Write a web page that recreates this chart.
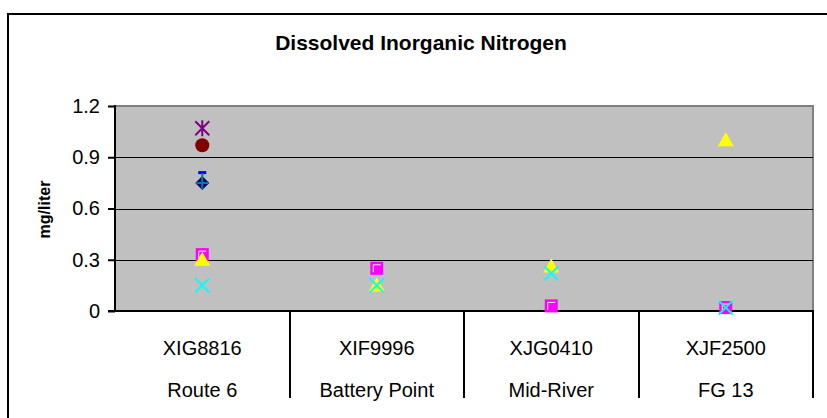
<!DOCTYPE html>
<html>
<head>
<meta charset="utf-8">
<script src="https://cdn.jsdelivr.net/npm/d3@7"></script>
<style>
  body { margin: 0; background: #fff; }
  svg { display: block; font-family: "Liberation Sans", Arial, sans-serif; }
</style>
</head>
<body>
<div id="chart"></div>
<script>
const stations = ["XIG8816", "XIF9996", "XJG0410", "XJF2500"];
const places = ["Route 6", "Battery Point", "Mid-River", "FG 13"];
const yTicks = [0, 0.3, 0.6, 0.9, 1.2];

// one array per series, one value per station (null = no value)
const diamondVals = [0.75, null, null, null];
const squareVals = [0.33, 0.25, 0.03, 0.02];
const triangleVals = [0.30, 0.15, 0.26, 1.0];
const crossVals = [0.15, 0.15, 0.22, 0.02];
const starVals = [1.07, null, null, null];
const circleVals = [0.97, null, null, null];
const plusVals = [0.75, null, null, null];
const dashVals = [0.81, null, null, null];

const width = 827;
const height = 418;
const plot = { left: 115, right: 813, top: 106, bottom: 311 };

const svg = d3
  .select("#chart")
  .append("svg")
  .attr("width", width)
  .attr("height", height);

// outer chart frame
svg
  .append("rect")
  .attr("x", 8)
  .attr("y", 14)
  .attr("width", 900)
  .attr("height", 500)
  .attr("fill", "#fff")
  .attr("stroke", "#000")
  .attr("stroke-width", 2);

svg
  .append("text")
  .attr("x", 421)
  .attr("y", 50)
  .attr("text-anchor", "middle")
  .style("font-size", "21px")
  .style("font-weight", "bold")
  .text("Dissolved Inorganic Nitrogen");

const x = d3
  .scaleBand()
  .domain(stations)
  .range([plot.left, plot.right]);

const y = d3
  .scaleLinear()
  .domain([0, 1.2])
  .range([plot.bottom, plot.top]);

// plot background
svg
  .append("rect")
  .attr("x", plot.left)
  .attr("y", plot.top)
  .attr("width", plot.right - plot.left)
  .attr("height", plot.bottom - plot.top)
  .attr("fill", "#c0c0c0");

// top / right border of the plot area
svg
  .append("path")
  .attr("d", `M${plot.left},${plot.top}H${plot.right}V${plot.bottom}`)
  .attr("fill", "none")
  .attr("stroke", "#808080")
  .attr("stroke-width", 2);

// gridlines
svg
  .append("g")
  .selectAll("line")
  .data(yTicks.filter((d) => d > 0 && d < 1.2))
  .enter()
  .append("line")
  .attr("x1", plot.left)
  .attr("x2", plot.right)
  .attr("y1", (d) => Math.round(y(d)) + 0.5)
  .attr("y2", (d) => Math.round(y(d)) + 0.5)
  .attr("stroke", "#000");

// y axis
const yAxis = d3
  .axisLeft(y)
  .tickValues(yTicks)
  .tickFormat((d) => (d === 0 ? "0" : d3.format(".1f")(d)))
  .tickSize(7)
  .tickPadding(8);

const yg = svg
  .append("g")
  .attr("transform", `translate(${plot.left},0)`)
  .call(yAxis);
yg.select(".domain").remove();
yg.selectAll(".tick line").attr("stroke", "#000").attr("stroke-width", 2);
yg.selectAll(".tick text")
  .style("font-size", "20px")
  .style("font-family", "Liberation Sans, Arial, sans-serif")
  .attr("fill", "#000");

svg
  .append("line")
  .attr("x1", plot.left)
  .attr("x2", plot.left)
  .attr("y1", plot.top - 1)
  .attr("y2", plot.bottom + 1)
  .attr("stroke", "#000")
  .attr("stroke-width", 2);

svg
  .append("text")
  .attr("transform", `translate(50,${(plot.top + plot.bottom) / 2 + 1}) rotate(-90)`)
  .attr("text-anchor", "middle")
  .style("font-size", "16px")
  .style("font-weight", "bold")
  .text("mg/liter");

// x axis with two label rows and dividers
svg
  .append("line")
  .attr("x1", plot.left - 7)
  .attr("x2", plot.right + 1)
  .attr("y1", plot.bottom)
  .attr("y2", plot.bottom)
  .attr("stroke", "#000")
  .attr("stroke-width", 2);

const dividers = stations.map((s) => x(s) + x.bandwidth());
svg
  .append("g")
  .selectAll("line")
  .data(dividers)
  .enter()
  .append("line")
  .attr("x1", (d) => Math.round(d))
  .attr("x2", (d) => Math.round(d))
  .attr("y1", plot.bottom)
  .attr("y2", 398)
  .attr("stroke", "#000")
  .attr("stroke-width", 2);

const cx = (s) => x(s) + x.bandwidth() / 2;

svg
  .append("g")
  .selectAll("text")
  .data(stations)
  .enter()
  .append("text")
  .attr("x", cx)
  .attr("y", 355)
  .attr("text-anchor", "middle")
  .style("font-size", "20px")
  .text((d) => d);

svg
  .append("g")
  .selectAll("text")
  .data(places)
  .enter()
  .append("text")
  .attr("x", (d, i) => cx(stations[i]))
  .attr("y", 397)
  .attr("text-anchor", "middle")
  .style("font-size", "20px")
  .text((d) => d);

// markers
const pts = (vals) =>
  vals
    .map((v, i) => ({ s: stations[i], v: v }))
    .filter((d) => d.v !== null);

const layer = svg.append("g");

function drawSeries(vals, draw) {
  pts(vals).forEach((d) => {
    const g = layer
      .append("g")
      .attr("transform", `translate(${cx(d.s)},${y(d.v)})`);
    draw(g);
  });
}

// diamond
drawSeries(diamondVals, (g) =>
  g.append("path").attr("d", "M0,-7L7,0L0,7L-7,0Z").attr("fill", "#000080")
);
// blue dash
drawSeries(dashVals, (g) =>
  g.append("rect").attr("x", -4).attr("y", -1.5).attr("width", 8).attr("height", 3).attr("fill", "#0000ff")
);
// teal plus
drawSeries(plusVals, (g) =>
  g.append("path").attr("d", "M-6,0H6M0,-10V6").attr("stroke", "#008080").attr("stroke-width", 2)
);
// purple asterisk
drawSeries(starVals, (g) =>
  g
    .append("path")
    .attr("d", "M-7,-7L7,7M-7,7L7,-7M0,-8V8")
    .attr("stroke", "#800080")
    .attr("stroke-width", 2)
);
// dark red circle
drawSeries(circleVals, (g) =>
  g.append("circle").attr("r", 7).attr("fill", "#800000")
);
// magenta square
drawSeries(squareVals, (g) => {
  g.append("rect").attr("x", -6.5).attr("y", -6.5).attr("width", 13).attr("height", 13).attr("fill", "#ff00ff");
  g.append("path").attr("d", "M-3.5,4V-3.5H4").attr("fill", "none").attr("stroke", "#fff").attr("stroke-width", 1);
});
// yellow triangle
drawSeries(triangleVals, (g) =>
  g.append("path").attr("d", "M0,-8L8,6H-8Z").attr("fill", "#ffff00")
);
// cyan cross
drawSeries(crossVals, (g) =>
  g.append("path").attr("d", "M-7,-7L7,7M-7,7L7,-7").attr("stroke", "#00ffff").attr("stroke-width", 2)
);
</script>
</body>
</html>
